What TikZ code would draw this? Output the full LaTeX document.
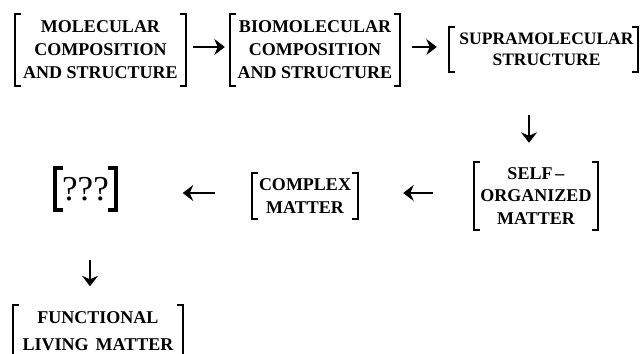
\documentclass[tikz,border=0pt]{standalone}
\usepackage{fontspec}
\setmainfont{Liberation Serif}
\usetikzlibrary{arrows.meta}
\tikzset{
  box/.style={inner sep=0pt, align=center, font=\bfseries\fontsize{18}{23}\selectfont},
  brk/.style={line width=2pt, line cap=butt, line join=miter},
  bigbrk/.style={line width=4pt, line cap=butt, line join=miter},
  arr/.style={line width=2.5pt, -{Stealth[length=10.5pt,width=16pt,inset=3.5pt]}},
}
\newcommand\brackets[3]{% style, serif, node
  \draw[#1] ([xshift=#2pt]#3.north west) -- (#3.north west) -- (#3.south west) -- ([xshift=#2pt]#3.south west);
  \draw[#1] ([xshift=-#2pt]#3.north east) -- (#3.north east) -- (#3.south east) -- ([xshift=-#2pt]#3.south east);
}
\begin{document}
\begin{tikzpicture}[x=1pt,y=-1pt]
\useasboundingbox (0,0) rectangle (641,354);
% nodes
\node[box, minimum width=171pt, minimum height=72pt] (n1) at (100.5,50) {MOLECULAR\\COMPOSITION\\AND STRUCTURE};
\node[box, minimum width=170pt, minimum height=72pt] (n2) at (315,50) {BIOMOLECULAR\\COMPOSITION\\AND STRUCTURE};
\node[box, minimum width=189pt, minimum height=45pt, font=\bfseries\fontsize{17.5}{21.5}\selectfont] (n3) at (543.5,49.5) {\hspace*{6pt}SUPRAMOLECULAR\\\hspace*{6pt}STRUCTURE};
\node[box, minimum width=124pt, minimum height=68pt, font=\bfseries\fontsize{18}{22.5}\selectfont] (ns) at (536,196) {SELF\,–\\ORGANIZED\\MATTER};
\node[box, minimum width=106pt, minimum height=46pt] (nc) at (305,196) {COMPLEX\\MATTER};
\node[inner sep=0pt, minimum width=60pt, minimum height=42pt, font=\fontsize{35}{35}\selectfont] (nq) at (85.5,189) {???};
\node[box, minimum width=170pt, minimum height=51pt, font=\bfseries\fontsize{18}{27.5}\selectfont] (nf) at (98,331) {FUNCTIONAL\\LIVING\hspace{0.4em}MATTER};
% brackets
\brackets{brk}{6}{n1}
\brackets{brk}{6}{n2}
\brackets{brk}{6}{n3}
\brackets{brk}{6}{ns}
\brackets{brk}{6}{nc}
\brackets{bigbrk}{8}{nq}
\brackets{brk}{6}{nf}
% connectors
\coordinate (x3) at (529,0);
\coordinate (x6) at (90,0);
\draw[arr, shorten <=7pt, shorten >=5pt] ([yshift=3pt]n1.east) -- ([yshift=3pt]n2.west);
\draw[arr, shorten <=12pt, shorten >=12pt] ([yshift=3pt]n2.east) -- ([yshift=3pt]n2.east -| n3.west);
\draw[arr, shorten <=43pt, shorten >=19pt] (n3.south -| x3) -- (ns.north -| x3);
\draw[arr, shorten <=41pt, shorten >=45pt] ([yshift=3pt]ns.west) -- ([yshift=3pt]nc.east);
\draw[arr, shorten <=37pt, shorten >=67pt] ([yshift=3pt]nc.west) -- ([yshift=3pt]nc.west -| nq.east);
\draw[arr, shorten <=50pt, shorten >=19pt] (nq.south -| x6) -- (nf.north -| x6);
\end{tikzpicture}
\end{document}
